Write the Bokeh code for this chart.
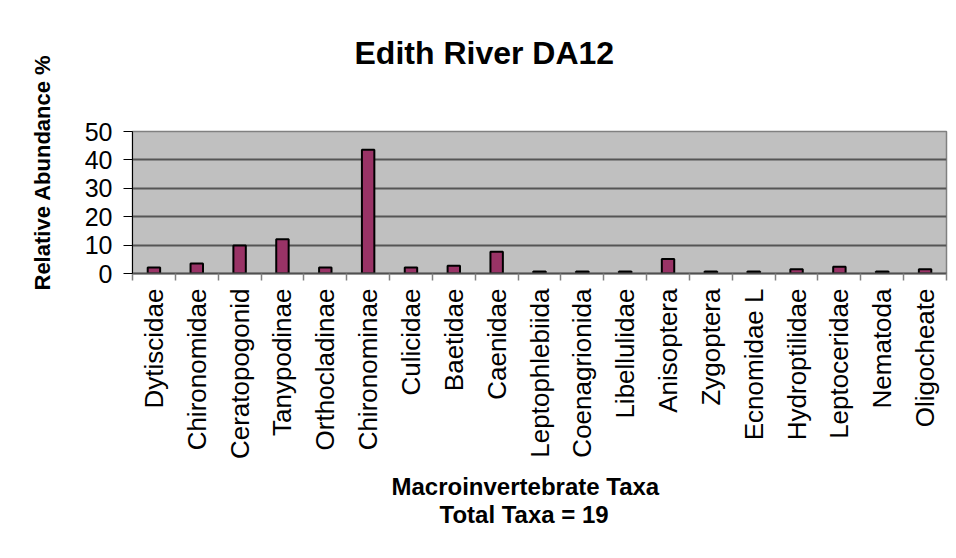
import numpy as np
from bokeh.plotting import figure
from bokeh.models import FixedTicker, Title, ColumnDataSource
from bokeh.embed import file_html
from bokeh.resources import INLINE

title = "Edith River DA12"
x_title_1 = "Macroinvertebrate Taxa"
x_title_2 = "Total Taxa = 19"
y_title = "Relative Abundance %"

taxa = ["Dytiscidae", "Chironomidae", "Ceratopogonid", "Tanypodinae", "Orthocladinae",
        "Chironominae", "Culicidae", "Baetidae", "Caenidae", "Leptophlebiida",
        "Coenagrionida", "Libellulidae", "Anisoptera", "Zygoptera", "Ecnomidae L",
        "Hydroptilidae", "Leptoceridae", "Nematoda", "Oligocheate"]
abundance = [2.1, 3.5, 9.9, 12.1, 2.1, 43.6, 2.1, 2.7, 7.7, 0.7,
             0.7, 0.7, 5.1, 0.7, 0.7, 1.5, 2.4, 0.7, 1.5]
y_ticks = [0, 10, 20, 30, 40, 50]

n = len(taxa)
centers = np.arange(n) + 0.5
bounds = np.arange(n + 1)

src = ColumnDataSource(dict(x=centers, top=abundance))

FONT = "Liberation Sans"
W, H = 948, 550

p = figure(width=W, height=H, output_backend="svg", toolbar_location=None,
           x_range=(0, n), y_range=(0, 50),
           min_border_left=128, min_border_right=2, min_border_top=131, min_border_bottom=277)

p.background_fill_color = "#C0C0C0"
p.border_fill_color = "white"
p.outline_line_color = "#808080"
p.outline_line_width = 1.5

p.vbar(x="x", top="top", width=0.29, bottom=0, source=src,
       fill_color="#993366", line_color="black", line_width=2)

# y axis
p.yaxis.ticker = FixedTicker(ticks=y_ticks)
p.yaxis.axis_line_color = "black"
p.yaxis.axis_line_width = 1
p.yaxis.major_tick_line_color = "black"
p.yaxis.major_tick_out = 9
p.yaxis.major_tick_in = 0
p.yaxis.minor_tick_line_color = None
p.yaxis.major_label_text_font = FONT
p.yaxis.major_label_text_font_size = "25px"
p.yaxis.major_label_text_color = "black"
p.yaxis.major_label_standoff = 11

# x axis
p.xaxis.ticker = FixedTicker(ticks=list(centers), minor_ticks=list(bounds))
p.xaxis.major_label_overrides = {float(c): t for c, t in zip(centers, taxa)}
p.xaxis.major_label_orientation = np.pi / 2
p.xaxis.major_tick_line_color = None
p.xaxis.major_tick_out = 0
p.xaxis.major_tick_in = 0
p.xaxis.minor_tick_line_color = "#808080"
p.xaxis.minor_tick_line_width = 1.5
p.xaxis.minor_tick_out = 7
p.xaxis.minor_tick_in = 0
p.xaxis.axis_line_color = "#505050"
p.xaxis.axis_line_width = 2
p.xaxis.major_label_text_font = FONT
p.xaxis.major_label_text_font_size = "26px"
p.xaxis.major_label_text_color = "black"
p.xaxis.major_label_standoff = 8

p.xgrid.grid_line_color = None
p.ygrid.ticker = FixedTicker(ticks=y_ticks[1:-1])
p.ygrid.grid_line_color = "#555555"
p.ygrid.grid_line_width = 2

# title (a blank second line keeps it clear of the frame)
p.title.text = title + "\n "
p.title.align = "left"
p.title.offset = 222
p.title.text_font = FONT
p.title.text_font_size = "32px"
p.title.text_font_style = "bold"
p.title.text_color = "black"
p.title.standoff = 50

def side_title(txt, side, offset, size, standoff):
    t = Title(text=txt, align="left", offset=offset, text_font=FONT,
              text_font_size=size, text_font_style="bold", text_color="black",
              standoff=standoff)
    p.add_layout(t, side)

side_title(x_title_1, "below", 259, "24px", 16)
side_title(x_title_2, "below", 307, "24px", -18)
side_title(y_title, "left", -17, "22px", 54)

open("out.html", "w").write(file_html(p, INLINE))
